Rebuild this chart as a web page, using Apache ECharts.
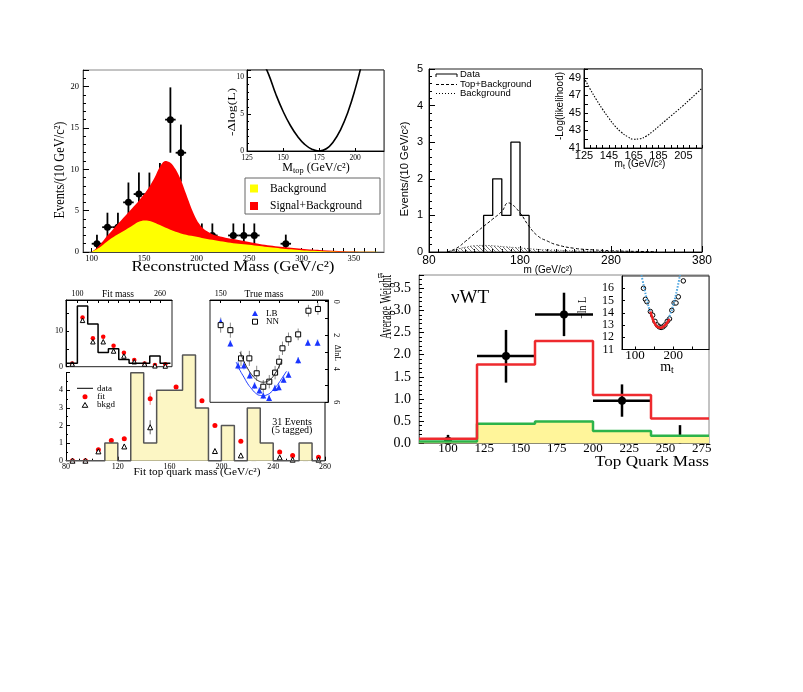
<!DOCTYPE html>
<html><head><meta charset="utf-8">
<script src="https://cdn.jsdelivr.net/npm/echarts@6/dist/echarts.min.js"></script>
<style>html,body{margin:0;padding:0;background:#fff}#c{width:803px;height:692px}</style>
</head><body><div id="c"></div>
<script>
// ================= DATA =================
// Panel A (top-left): reconstructed mass
const aMass     = [105,115,125,135,145,155,165,175,185,195,205,215,235,245,255,285];
const aEvents   = [1,3,3,6,7,7,8,16,12,2,2,2,2,2,2,1];
const aErrLow   = [0,1.25,1.25,3.4,4.3,4.3,5.15,12,8.5,0.6,0.6,0.6,0.6,0.6,0.6,0];
const aErrHigh  = [2.1,4.75,4.75,8.4,9.6,9.6,10.75,19.9,15.4,3.45,3.45,3.45,3.45,3.45,3.45,2.1];
const aBinHalf  = 5;
const aCurveMass= [100,105,110,115,120,125,130,135,140,145,150,155,160,165,170,175,180,185,190,195,200,205,210,215,220,225,230,240,250,260,270,280,290,300,310,320,340,360,378];
const aSigBkg   = [0,0.5,1.2,2.0,2.7,3.4,4.1,4.8,5.5,6.2,7.0,7.9,9.0,10.3,11.0,10.8,10.0,8.7,7.0,5.3,3.9,3.0,2.5,2.15,1.95,1.8,1.65,1.45,1.2,0.98,0.8,0.63,0.5,0.4,0.3,0.22,0.1,0.04,0.01];
const aBkg      = [0,0.35,0.8,1.3,1.75,2.15,2.5,2.9,3.3,3.65,3.8,3.75,3.55,3.25,2.95,2.7,2.45,2.25,2.1,1.95,1.85,1.7,1.58,1.47,1.36,1.26,1.16,1.0,0.88,0.72,0.56,0.43,0.32,0.22,0.15,0.1,0.04,0.02,0];
const aXLabels  = [100,150,200,250,300,350];
const aScanMass = [136,140,145,150,155,160,165,170,175,180,185,190,195,200,205];
const aScanVal  = [12.1,10.4,7.7,5.4,3.5,2.0,0.9,0.25,0.0,0.3,1.3,2.95,5.3,8.4,12.2];
const aScanXLabels = [125,150,175,200];

// Panel B (top-right)
const bEdges    = [140,150,160,170,180,190];
const bCounts   = [1,2,1,3,1];
const bFitMass  = [100,110,120,130,140,150,160,167,170,180,190,200,210,220,240,260,280,300,330];
const bTopBkg   = [0,0.1,0.29,0.5,0.7,0.9,1.11,1.34,1.32,1.07,0.7,0.43,0.3,0.2,0.1,0.06,0.035,0.02,0.01];
const bBkgMass  = [100,110,120,130,140,150,160,170,180,190,200,220,240,260,280,300];
const bBkg      = [0,0.07,0.13,0.17,0.18,0.17,0.15,0.13,0.11,0.09,0.07,0.05,0.03,0.02,0.01,0];
const bScanMass = [125,130,135,140,145,150,155,160,165,170,175,180,185,190,195,200,205,210,215,220];
const bScanVal  = [49.0,47.7,46.5,45.4,44.4,43.5,42.8,42.3,42.0,42.05,42.35,42.85,43.45,44.05,44.65,45.25,45.85,46.5,47.15,47.8];
const bScanXLabels = [125,145,165,185,205];
const bScanYLabels = [41,43,45,47,49];

// Panel C (bottom-left): fit top quark mass
const cEdges    = [80,90,100,110,120,130,140,150,160,170,180,190,200,210,220,230,240,250,260,270,280];
const cData     = [0,0,0,1,0,5,1,4,4,6,3,0,2,0,3,1,0,0,1,0];
const cCenters  = [85,95,105,115,125,135,145,155,165,175,185,195,205,215,225,235,245,255,265,275];
const cFit      = [0,0,0.62,1.15,1.25,2.08,3.52,3.84,4.19,4.07,3.41,2.0,1.44,1.1,0.66,0.66,0.49,0.3,0.38,0.2];
const cFitErr   = [0.03,0.03,0.1,0.12,0.1,0.22,0.35,0.15,0.12,0.12,0.1,0.08,0.1,0.07,0.06,0.06,0.05,0.04,0.05,0.04];
const cBkgd     = [0,0,0.53,0.81,0.81,1.15,1.9,1.6,1.17,0.62,0.62,0.55,0.45,0.3,0.15,0.27,0.19,0.06,0.15,0.06];
const cBkgdErr  = [0.02,0.02,0.1,0.1,0.1,0.15,0.4,0.2,0.1,0.08,0.08,0.07,0.06,0.05,0.04,0.05,0.04,0.03,0.04,0.03];
// inset "Fit mass"
const c1Edges   = [80,100,120,140,160,180,200,220,240,260,280];
const c1Data    = [1,17,12,4,5,2,1,1,3,1];
const c1Centers = [90,110,130,150,170,190,210,230,250,270];
const c1Fit     = [0.9,13.8,8.0,8.4,5.9,3.9,1.9,0.9,0.5,0.7];
const c1Bkgd    = [0.75,13.0,7.0,7.0,4.4,3.0,1.4,0.75,0.25,0.2];
// inset "True mass"
const lbMass    = [150,155,159,162,165,167.5,170,172,175,178,180,182.5,185,190,195,200];
const lbVal     = [1.2,2.5,3.8,3.8,4.4,5.0,5.3,5.6,5.75,5.15,5.1,4.65,4.35,3.5,2.45,2.45];
const lbErr     = [0.2,0.2,0.25,0.25,0.2,0.2,0.2,0.2,0.2,0.2,0.2,0.2,0.2,0.2,0.2,0.2];
const nnMass    = [150,155,160.5,164.8,168.6,172,175.1,178.1,180.2,181.9,185,190,195.3,200.2];
const nnVal     = [1.4,1.7,3.38,3.38,4.27,5.07,4.77,4.23,3.58,2.78,2.24,1.95,0.54,0.44];
const nnErr     = [0.45,0.45,0.45,0.45,0.45,0.4,0.4,0.4,0.4,0.4,0.4,0.35,0.35,0.35];
const nnFitMass = [160,162,164,166,168,170,172,174,176,178,180,181.5];
const nnFitVal  = [3.0,3.55,4.0,4.35,4.6,4.75,4.8,4.75,4.6,4.3,3.9,3.5];
const lbFitMass = [158,160,162,164,166,168,170,172,174,176,178,180,182,184];
const lbFitVal  = [3.6,4.1,4.5,4.9,5.2,5.45,5.58,5.6,5.55,5.4,5.15,4.85,4.5,4.15];

// Panel D (bottom-right): vWT
const dEdges    = [80,120,160,200,240,280];
const dRed      = [0.1,1.78,2.31,1.09,0.56];
const dGreen    = [0.04,0.44,0.49,0.28,0.17];
const dPtsX     = [100,140,180,220,260];
const dPtsY     = [0.06,1.97,2.91,0.96,0.09];
const dErrLow   = [0,1.37,2.42,0.6,0];
const dErrHigh  = [0.19,2.56,3.4,1.33,0.41];
const dXHalf    = [0,20,20,20,0];
const dXLabels  = [100,125,150,175,200,225,250,275];
const dScanMass = [115,120,130,140,150,160,166,170,180,190,200,210,220];
const dScanBlue = [17.3,16.6,15.2,14.0,13.25,12.86,12.8,12.83,13.12,13.73,14.67,15.94,17.5];
const dFitMass  = [140,145,150,155,160,165,170,175,180,185,190];
const dFitRed   = [14.1,13.6,13.2,12.95,12.82,12.78,12.8,12.9,13.05,13.25,13.5];
const dPtsMass  = [122,127,131,140,146,152,158,163,168,173,178,184,190,196,202,207,213,226];
const dPtsVal   = [16.0,15.1,14.9,14.1,13.8,13.3,13.0,12.85,12.8,12.85,13.0,13.3,13.5,14.2,14.8,14.8,15.3,16.6];
const dScanYLabels = [11,12,13,14,15,16];

// ================= HELPERS =================
const SERIF = 'Liberation Serif', SANS = 'Liberation Sans';
const zip = (a,b) => a.map((x,i)=>[x,b[i]]);
function stepData(edges, vals, closed){
  const d = [];
  if (closed) d.push([edges[0],0]);
  vals.forEach((v,i)=>d.push([edges[i],v]));
  d.push([edges[edges.length-1], vals[vals.length-1]]);
  if (closed) d.push([edges[edges.length-1],0]);
  return d;
}
function range(a,b,s){const r=[];for(let v=a;v<=b+1e-9;v+=s)r.push(+v.toFixed(3));return r;}
function merge(a,b){const o=Object.assign({},a);for(const k in b){const bv=b[k],av=a[k];
  if(bv&&typeof bv==='object'&&!Array.isArray(bv)&&av&&typeof av==='object'&&!Array.isArray(av))o[k]=merge(av,bv);else o[k]=bv;}return o;}
function axis(o){return merge({type:'value',splitLine:{show:false},
  axisLine:{show:true,onZero:false,lineStyle:{color:'#000',width:1}},
  axisTick:{show:true,inside:true,length:5,lineStyle:{color:'#000',width:1}},
  minorTick:{show:false,length:3,lineStyle:{color:'#000',width:1}},
  axisLabel:{color:'#000',fontFamily:SERIF,fontSize:8,margin:3,hideOverlap:false}},o);}
function errSeries(xs,ys,lo,hi,xlo,xhi,xi,color,lw){
  const data = xs.map((x,i)=>[x,ys[i],lo[i],hi[i],xlo?xlo[i]:x,xhi?xhi[i]:x]);
  return {type:'custom',xAxisIndex:xi,yAxisIndex:xi,data,silent:true,encode:{x:0,y:1},clip:false,
    renderItem:(p,api)=>{
      const x=api.value(0),y=api.value(1);
      const a=api.coord([x,api.value(2)]),b=api.coord([x,api.value(3)]);
      const ch=[{type:'line',shape:{x1:a[0],y1:a[1],x2:b[0],y2:b[1]},style:{stroke:color,lineWidth:lw}}];
      const xl=api.value(4),xh=api.value(5);
      if(xh>xl){const c=api.coord([xl,y]),d=api.coord([xh,y]);
        ch.push({type:'line',shape:{x1:c[0],y1:c[1],x2:d[0],y2:d[1]},style:{stroke:color,lineWidth:lw}});}
      return {type:'group',children:ch};
    }};
}
function lineS(xi,data,color,lw,extra){return Object.assign({type:'line',xAxisIndex:xi,yAxisIndex:xi,data,
  symbol:'none',showSymbol:false,silent:true,lineStyle:{color,width:lw},itemStyle:{color}},extra||{});}
function scat(xi,data,symbol,size,fill,stroke,bw){return {type:'scatter',xAxisIndex:xi,yAxisIndex:xi,data,symbol,
  symbolSize:size,silent:true,clip:false,itemStyle:{color:fill,borderColor:stroke||fill,borderWidth:bw||0,opacity:1}};}
const meas=document.createElement('canvas').getContext('2d');
function txt(text,x,y,font,opt){opt=opt||{};
  const o={type:'text',x,y,rotation:opt.rot||0,z:100,silent:true,
    style:{text,font,fill:opt.fill||'#000',textAlign:opt.align||'center',align:opt.align||'center',
      textVerticalAlign:opt.valign||'middle',verticalAlign:opt.valign||'middle'}};
  if(opt.w){meas.font=font;const w=meas.measureText(text).width;if(w>0)o.scaleX=opt.w/w;}
  if(opt.rich){o.style.rich=opt.rich;}
  return o;}
function hatch(){const c=document.createElement('canvas');c.width=4;c.height=4;const g=c.getContext('2d');
  g.strokeStyle='#555';g.lineWidth=0.8;g.beginPath();g.moveTo(0,0);g.lineTo(4,4);g.moveTo(-1,3);g.lineTo(1,5);g.moveTo(3,-1);g.lineTo(5,1);g.stroke();return c;}

// ================= LAYOUT =================
const G = (l,t,w,h,extra)=>Object.assign({left:l,top:t,width:w,height:h,containLabel:false,outerBoundsMode:'none'},extra||{});
const grids=[
  G(83,70,301,182,{show:true,borderColor:'#888',borderWidth:1}),
  G(247,70,137,81,{show:true,borderColor:'#222',borderWidth:1,backgroundColor:'#fff'}),
  G(429,69,273,183,{show:true,borderColor:'#222',borderWidth:1}),
  G(584,69,118,79,{show:true,borderColor:'#222',borderWidth:1,backgroundColor:'#fff'}),
  G(66,372.7,259,88),
  G(66,300,106,66.7,{show:true,borderColor:'#222',borderWidth:1,backgroundColor:'#fff'}),
  G(210,300,118,102.3,{show:true,borderColor:'#222',borderWidth:1,backgroundColor:'#fff'}),
  G(419,275,290,168.3,{show:true,borderColor:'#888',borderWidth:1}),
  G(622,276,87,73.5,{show:true,borderColor:'#222',borderWidth:1,backgroundColor:'#fff'})
];
const xAxes=[
  axis({gridIndex:0,min:91.7,max:378.6,axisLine:{lineStyle:{color:'#444'}},axisLabel:{customValues:aXLabels,fontSize:8.5,margin:2},axisTick:{customValues:range(100,370,10),length:4}}),
  axis({gridIndex:1,min:125,max:220,axisLabel:{customValues:aScanXLabels,fontSize:7.5,margin:3},axisTick:{customValues:aScanXLabels,length:3}}),
  axis({gridIndex:2,min:80,max:380,interval:100,minorTick:{show:true,splitNumber:10,length:3},axisLabel:{fontFamily:SANS,fontSize:12,margin:3},axisTick:{length:6}}),
  axis({gridIndex:3,min:125,max:220,axisLabel:{customValues:bScanXLabels,fontFamily:SANS,fontSize:11,margin:2},axisTick:{customValues:range(125,220,5),length:3}}),
  axis({gridIndex:4,min:80,max:280,interval:40,minorTick:{show:true,splitNumber:4,length:2},axisLabel:{fontSize:8,margin:2},axisTick:{length:4}}),
  axis({gridIndex:5,position:'top',min:78,max:283,axisLabel:{customValues:[100,260],fontSize:8,margin:2},axisTick:{customValues:range(100,260,20),length:3}}),
  axis({gridIndex:6,position:'top',min:144.5,max:205.4,axisLabel:{customValues:[150,200],fontSize:8,margin:2},axisTick:{customValues:range(150,200,10),length:3}}),
  axis({gridIndex:7,min:80,max:280,axisLine:{lineStyle:{color:'#666'}},axisLabel:{customValues:dXLabels,fontSize:13,margin:-1},axisTick:{customValues:dXLabels,length:5}}),
  axis({gridIndex:8,min:66,max:293,axisLabel:{customValues:[100,200],fontSize:13,margin:0},axisTick:{customValues:[100,150,200,250],length:3}})
];
const yAxes=[
  axis({gridIndex:0,min:0,max:22,interval:5,axisLine:{lineStyle:{color:'#444'}},minorTick:{show:true,splitNumber:5,length:3},axisLabel:{showMaxLabel:false,fontSize:8.5,margin:4},axisTick:{length:6}}),
  axis({gridIndex:1,min:0,max:11,interval:5,minorTick:{show:true,splitNumber:5,length:2},axisLabel:{showMaxLabel:false,fontSize:7.5,margin:3},axisTick:{length:4}}),
  axis({gridIndex:2,min:0,max:5,interval:1,minorTick:{show:true,splitNumber:5,length:3},axisLabel:{fontFamily:SANS,fontSize:11,margin:6},axisTick:{length:6}}),
  axis({gridIndex:3,min:41,max:50,axisLabel:{customValues:bScanYLabels,fontFamily:SANS,fontSize:11,margin:3,showMinLabel:true,showMaxLabel:true},axisTick:{customValues:range(41,50,1),length:4}}),
  axis({gridIndex:4,min:0,max:5,interval:1,minorTick:{show:true,splitNumber:2,length:2},axisLabel:{showMaxLabel:false,fontSize:8,margin:3},axisTick:{length:4}}),
  axis({gridIndex:5,min:0,max:18.7,axisLabel:{customValues:[0,10],fontSize:8,margin:3},axisTick:{customValues:[0,5,10,15],length:3}}),
  axis({gridIndex:6,position:'right',inverse:true,min:-0.1,max:6,axisLabel:{customValues:[0,2,4,6],fontSize:8,margin:4,rotate:-90,showMinLabel:true,showMaxLabel:true},axisTick:{customValues:range(0,6,1),length:3}}),
  axis({gridIndex:7,min:0,max:3.8,interval:0.5,axisLine:{lineStyle:{color:'#666'}},minorTick:{show:true,splitNumber:5,length:3},axisLabel:{showMaxLabel:false,showMinLabel:true,fontSize:14,margin:8,formatter:v=>v.toFixed(1)},axisTick:{length:5}}),
  axis({gridIndex:8,min:11,max:17,axisLabel:{customValues:dScanYLabels,fontSize:12,margin:8,showMinLabel:true,showMaxLabel:true},axisTick:{customValues:dScanYLabels,length:3}})
];

// ================= SERIES =================
const series=[
  // A
  lineS(0,zip(aCurveMass,aSigBkg),'#ff0000',0,{smooth:0.3,areaStyle:{color:'#ff0000',opacity:1}}),
  lineS(0,zip(aCurveMass,aBkg),'#ffff00',0,{smooth:0.3,areaStyle:{color:'#ffff00',opacity:1}}),
  errSeries(aMass,aEvents,aErrLow,aErrHigh,aMass.map(m=>m-aBinHalf),aMass.map(m=>m+aBinHalf),0,'#000',1.8),
  scat(0,zip(aMass,aEvents),'circle',7,'#000'),
  lineS(1,zip(aScanMass,aScanVal),'#000',1.6,{smooth:true}),
  // B
  lineS(2,zip(bBkgMass,bBkg),'#000',0.8,{smooth:true,lineStyle:{color:'#000',width:0.8,type:[1,2]},areaStyle:{color:{image:hatch(),repeat:'repeat'},opacity:1}}),
  lineS(2,zip(bFitMass,bTopBkg),'#000',1,{smooth:true,lineStyle:{color:'#000',width:1,type:[3,2]}}),
  lineS(2,stepData(bEdges,bCounts,true),'#000',1.3,{step:'end'}),
  lineS(3,zip(bScanMass,bScanVal),'#000',1,{smooth:true,lineStyle:{color:'#000',width:1.1,type:[1.5,1.5]}}),
  // C main
  lineS(4,stepData(cEdges,cData,true),'#555',1.5,{step:'end',clip:false,areaStyle:{color:'#fcf6c4',opacity:1}}),
  errSeries(cCenters,cFit,cFit.map((v,i)=>v-cFitErr[i]),cFit.map((v,i)=>v+cFitErr[i]),null,null,4,'#f08080',1),
  scat(4,zip(cCenters,cFit),'circle',5,'#ff0000'),
  errSeries(cCenters,cBkgd,cBkgd.map((v,i)=>v-cBkgdErr[i]),cBkgd.map((v,i)=>v+cBkgdErr[i]),null,null,4,'#444',0.8),
  scat(4,zip(cCenters,cBkgd),'triangle',5,'#fff','#000',1),
  // C1
  lineS(5,stepData(c1Edges,c1Data,false),'#000',1.5,{step:'end'}),
  scat(5,zip(c1Centers,c1Fit),'circle',4.5,'#ff0000'),
  scat(5,zip(c1Centers,c1Bkgd),'triangle',4.5,'#fff','#000',1),
  // C2
  errSeries(nnMass,nnVal,nnVal.map((v,i)=>v-nnErr[i]),nnVal.map((v,i)=>v+nnErr[i]),null,null,6,'#888',1),
  errSeries(lbMass,lbVal,lbVal.map((v,i)=>v-lbErr[i]),lbVal.map((v,i)=>v+lbErr[i]),null,null,6,'#9fb4ff',1.5),
  lineS(6,zip(nnFitMass,nnFitVal),'#222',1,{smooth:true}),
  lineS(6,zip(lbFitMass,lbFitVal),'#1f3cff',1,{smooth:true}),
  scat(6,zip(lbMass,lbVal),'triangle',6,'#1a35ff'),
  scat(6,zip(nnMass,nnVal),'rect',5,'#fff','#000',1),
  // D
  lineS(7,stepData(dEdges,dGreen,false),'#2db34a',2.5,{step:'end',areaStyle:{color:'#fff59a',opacity:1}}),
  lineS(7,stepData(dEdges,dRed,false),'#ee2a2e',2.5,{step:'end'}),
  errSeries(dPtsX,dPtsY,dErrLow,dErrHigh,dPtsX.map((x,i)=>x-dXHalf[i]),dPtsX.map((x,i)=>x+dXHalf[i]),7,'#000',2.5),
  scat(7,zip(dPtsX,dPtsY),'circle',8,'#000'),
  lineS(8,zip(dScanMass,dScanBlue),'#4aa3df',2,{smooth:true,lineStyle:{color:'#4aa3df',width:2,type:[1.5,1.5]}}),
  lineS(8,zip(dFitMass,dFitRed),'#ee2020',2.5,{smooth:true}),
  scat(8,zip(dPtsMass,dPtsVal),'circle',4.5,'#fff','#000',1)
];

// ================= TEXT / LEGENDS =================
const F=(s,f)=>s+'px "'+(f||SERIF)+'"';
const subRich=(size,f)=>({m:{font:F(size,f)},s:{font:F(size*0.7,f),padding:[size*0.55,0,0,0]}});
const els=[
  // Panel A
  txt('Reconstructed Mass (GeV/c²)',233,267.5,F(14.5),{w:203}),
  txt('Events/(10 GeV/c²)',60,170,F(15),{rot:Math.PI/2,w:97}),
  txt('{m|M}{s|top}{m| (GeV/c²)}',316,168,F(12),{rich:subRich(12)}),
  txt('-Δlog(L)',232,112,F(11),{rot:Math.PI/2,w:48}),
  {type:'rect',z:90,shape:{x:245,y:178,width:135,height:36},style:{fill:'#fff',stroke:'#666',lineWidth:1}},
  {type:'rect',z:95,shape:{x:250,y:184.5,width:8,height:8},style:{fill:'#ffff00'}},
  {type:'rect',z:95,shape:{x:250,y:202,width:8,height:8},style:{fill:'#ff0000'}},
  txt('Background',270,188.5,F(11.5),{align:'left'}),
  txt('Signal+Background',270,206,F(11.5),{align:'left'}),
  txt('tt̄',380,276,F(9)),
  // Panel B
  txt('m (GeV/c²)',548,270,F(10,SANS)),
  txt('Events/(10 GeV/c²)',405,169,F(10,SANS),{rot:Math.PI/2,w:95}),
  txt('-Log(likelihood)',560,106,F(10,SANS),{rot:Math.PI/2,w:68}),
  txt('{m|m}{s|t}{m| (GeV/c²)}',640,164,F(10,SANS),{rich:subRich(10,SANS)}),
  {type:'polyline',z:95,shape:{points:[[436,77],[436,74],[457,74],[457,77]]},style:{stroke:'#000',lineWidth:1,fill:null}},
  {type:'polyline',z:95,shape:{points:[[436,84.5],[457,84.5]]},style:{stroke:'#000',lineWidth:1,lineDash:[3,2],fill:null}},
  {type:'polyline',z:95,shape:{points:[[436,93.5],[457,93.5]]},style:{stroke:'#000',lineWidth:1,lineDash:[1,2],fill:null}},
  txt('Data',460,74,F(9.5,SANS),{align:'left'}),
  txt('Top+Background',460,84,F(9.5,SANS),{align:'left'}),
  txt('Background',460,93,F(9.5,SANS),{align:'left'}),
  // Panel C
  txt('Fit top quark mass (GeV/c²)',197,472.5,F(10),{w:127}),
  txt('Fit mass',118,294.5,F(9.5)),
  txt('True mass',264,294.5,F(9.5)),
  txt('ΔlnL',337,353,F(8),{rot:-Math.PI/2}),
  {type:'line',z:95,shape:{x1:325,y1:402.3,x2:325,y2:460.7},style:{stroke:'#000',lineWidth:1}},
  {type:'line',z:95,shape:{x1:77,y1:388.3,x2:93,y2:388.3},style:{stroke:'#000',lineWidth:1}},
  {type:'circle',z:95,shape:{cx:85,cy:396.7,r:2.5},style:{fill:'#ff0000'}},
  {type:'polygon',z:95,shape:{points:[[82.2,407.3],[87.8,407.3],[85,402.5]]},style:{fill:'#fff',stroke:'#000',lineWidth:1}},
  txt('data',97,388.3,F(9),{align:'left'}),
  txt('fit',97,396.7,F(9),{align:'left'}),
  txt('bkgd',97,405,F(9),{align:'left'}),
  txt('31 Events',292,422.7,F(10)),
  txt('(5 tagged)',292,430.7,F(10)),
  {type:'polygon',z:95,shape:{points:[[252,316],[258,316],[255,310.5]]},style:{fill:'#1a35ff'}},
  {type:'rect',z:95,shape:{x:252.5,y:319.2,width:5,height:5},style:{fill:'#fff',stroke:'#000',lineWidth:1}},
  txt('LB',266,313.3,F(9),{align:'left'}),
  txt('NN',266,321.7,F(9),{align:'left'}),
  // Panel D
  txt('νWT',470,298.5,F(19)),
  txt('Average Weight',386.5,307,F(17),{rot:Math.PI/2,w:64}),
  txt('Top Quark Mass',709,462.5,F(15),{align:'right',w:114}),
  txt('−ln L',583,308,F(13),{rot:Math.PI/2,w:22}),
  txt('{m|m}{s|t}',667,367,F(14),{rich:subRich(14)})
];

const chart=echarts.init(document.getElementById('c'),null,{renderer:'canvas',width:803,height:692});
chart.setOption({animation:false,backgroundColor:'#fff',grid:grids,xAxis:xAxes,yAxis:yAxes,series,graphic:{elements:els}});
</script></body></html>
